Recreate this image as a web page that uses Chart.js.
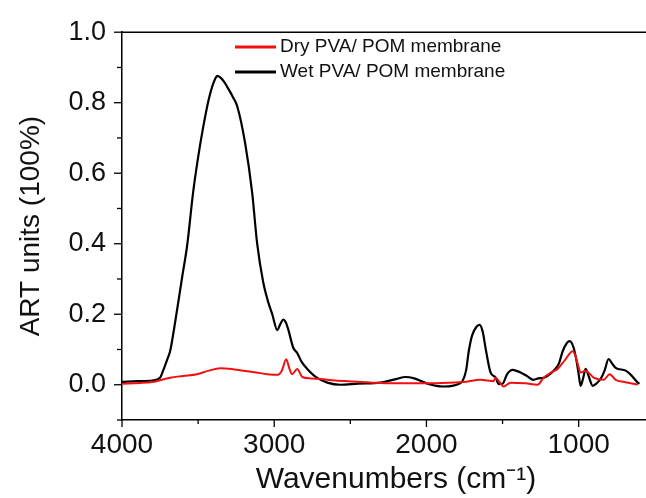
<!DOCTYPE html>
<html>
<head>
<meta charset="utf-8">
<script src="https://cdn.jsdelivr.net/npm/chart.js@4.4.0/dist/chart.umd.min.js"></script>
<style>
  html, body { margin: 0; padding: 0; background: #fff; overflow: hidden; }
  #wrap { width: 646px; height: 498px; overflow: hidden; }
</style>
</head>
<body>
<!-- the original figure is cropped on the right, so the canvas runs past the window edge -->
<div id="wrap"><canvas id="ftir" width="670" height="498"></canvas></div>
<script>
// wavenumbers (cm-1) and absorbance
var wetWavenumbers = [4000, 3900, 3800, 3750, 3730, 3700, 3684, 3650, 3605, 3572, 3533, 3500, 3467, 3430, 3408, 3390, 3375, 3355, 3330, 3309, 3270, 3243, 3191, 3145, 3112, 3072, 3040, 3013, 2980, 2960, 2941, 2925, 2908, 2875, 2849, 2820, 2783, 2720, 2651, 2566, 2450, 2303, 2200, 2138, 2080, 1993, 1888, 1776, 1740, 1722, 1700, 1670, 1651, 1630, 1612, 1579, 1545, 1526, 1500, 1470, 1434, 1400, 1382, 1340, 1296, 1265, 1230, 1164, 1130, 1105, 1075, 1059, 1033, 1015, 1000, 987, 970, 954, 935, 908, 880, 855, 830, 803, 780, 757, 691, 650, 612, 600];
var wetValues = [0.008, 0.010, 0.012, 0.02, 0.04, 0.075, 0.095, 0.18, 0.305, 0.395, 0.545, 0.645, 0.73, 0.81, 0.845, 0.866, 0.876, 0.872, 0.86, 0.845, 0.815, 0.79, 0.685, 0.545, 0.40, 0.29, 0.235, 0.20, 0.155, 0.172, 0.185, 0.178, 0.157, 0.105, 0.09, 0.065, 0.045, 0.02, 0.006, 0.0, 0.003, 0.006, 0.016, 0.022, 0.018, 0.003, -0.005, 0.005, 0.04, 0.095, 0.14, 0.165, 0.17, 0.15, 0.105, 0.035, 0.02, 0.002, 0.003, 0.03, 0.042, 0.038, 0.035, 0.025, 0.014, 0.018, 0.02, 0.04, 0.06, 0.095, 0.12, 0.124, 0.105, 0.07, 0.03, -0.003, 0.02, 0.045, 0.025, -0.003, 0.005, 0.017, 0.04, 0.073, 0.06, 0.048, 0.04, 0.025, 0.006, 0.003];

var dryWavenumbers = [4000, 3882, 3800, 3684, 3600, 3507, 3430, 3355, 3280, 3204, 3120, 3046, 2980, 2950, 2921, 2900, 2882, 2849, 2816, 2760, 2697, 2600, 2480, 2303, 2100, 1900, 1757, 1645, 1600, 1559, 1546, 1520, 1493, 1447, 1350, 1270, 1230, 1180, 1138, 1090, 1039, 1020, 1007, 987, 954, 925, 901, 836, 796, 757, 700, 612];
var dryValues = [0.003, 0.005, 0.008, 0.02, 0.025, 0.03, 0.04, 0.047, 0.045, 0.04, 0.035, 0.03, 0.028, 0.04, 0.072, 0.045, 0.03, 0.045, 0.022, 0.018, 0.016, 0.012, 0.009, 0.005, 0.004, 0.005, 0.008, 0.014, 0.012, 0.01, 0.02, 0.008, -0.005, 0.006, 0.004, 0.0, 0.02, 0.035, 0.045, 0.07, 0.095, 0.08, 0.06, 0.035, 0.04, 0.03, 0.02, 0.014, 0.03, 0.014, 0.008, 0.0];

var seriesLabels = ['Dry PVA/ POM membrane', 'Wet PVA/ POM membrane'];
var seriesColors = ['#f01010', '#000000'];

var xTicks = [4000, 3500, 3000, 2500, 2000, 1500, 1000, 500];
var xLabeled = [4000, 3000, 2000, 1000];
var yTicks = [-0.1, 0, 0.1, 0.2, 0.3, 0.4, 0.5, 0.6, 0.7, 0.8, 0.9, 1.0];
var yLabeled = ['0.0', '0.2', '0.4', '0.6', '0.8', '1.0'];

var FONT = '"Liberation Sans", Arial, sans-serif';

function pairs(xs, ys) {
    return xs.map(function (x, i) { return { x: x, y: ys[i] }; });
}

// top spine, outward major/minor ticks and the in-plot legend
var framePlugin = {
    id: 'frame',
    afterDraw: function (chart) {
        var ctx = chart.ctx, a = chart.chartArea;
        var xs = chart.scales.x, ys = chart.scales.y;
        ctx.save();
        ctx.strokeStyle = '#000';
        ctx.lineWidth = 1.5;
        ctx.beginPath();
        ctx.moveTo(a.left, a.top);
        ctx.lineTo(chart.width, a.top);
        ctx.stroke();

        ctx.lineWidth = 1.3;
        xTicks.forEach(function (v) {
            var px = xs.getPixelForValue(v);
            var len = xLabeled.indexOf(v) >= 0 ? 7 : 4;
            ctx.beginPath();
            ctx.moveTo(px, a.bottom);
            ctx.lineTo(px, a.bottom + len);
            ctx.stroke();
        });
        yTicks.forEach(function (v) {
            var py = ys.getPixelForValue(v);
            var len = yLabeled.indexOf(v.toFixed(1)) >= 0 ? 8 : 5;
            ctx.beginPath();
            ctx.moveTo(a.left, py);
            ctx.lineTo(a.left - len, py);
            ctx.stroke();
        });

        // legend
        ctx.font = '19px ' + FONT;
        ctx.textBaseline = 'middle';
        ctx.textAlign = 'left';
        chart.data.datasets.forEach(function (ds, i) {
            var y = 47 + i * 25;
            ctx.strokeStyle = ds.borderColor;
            ctx.lineWidth = 3;
            ctx.beginPath();
            ctx.moveTo(235, y);
            ctx.lineTo(276, y);
            ctx.stroke();
            ctx.fillStyle = '#111';
            ctx.fillText(ds.label, 280, y);
        });
        ctx.restore();
    }
};

var ctx = document.getElementById('ftir').getContext('2d');
var chart = new Chart(ctx, {
    type: 'line',
    data: {
        datasets: [{
            label: seriesLabels[0],
            data: pairs(dryWavenumbers, dryValues),
            borderColor: seriesColors[0],
            borderWidth: 2,
            pointRadius: 0,
            cubicInterpolationMode: 'monotone',
            fill: false
        }, {
            label: seriesLabels[1],
            data: pairs(wetWavenumbers, wetValues),
            borderColor: seriesColors[1],
            borderWidth: 2.2,
            pointRadius: 0,
            cubicInterpolationMode: 'monotone',
            fill: false
        }]
    },
    options: {
        responsive: false,
        animation: false,
        layout: { padding: { top: 28, right: 0, left: 0, bottom: 0 } },
        plugins: {
            legend: { display: false },
            tooltip: { enabled: false }
        },
        scales: {
            x: {
                type: 'linear',
                reverse: true,
                min: 400,
                max: 4000,
                afterBuildTicks: function (scale) {
                    scale.ticks = xTicks.map(function (v) { return { value: v }; });
                },
                afterFit: function (scale) { scale.height = 78; },
                grid: { display: false, drawTicks: false },
                border: { display: true, color: '#000', width: 1.5 },
                ticks: {
                    autoSkip: false,
                    maxRotation: 0,
                    padding: 8,
                    color: '#111',
                    font: { family: FONT, size: 28 },
                    callback: function (v) { return xLabeled.indexOf(v) >= 0 ? String(v) : ''; }
                },
                title: {
                    display: true,
                    text: 'Wavenumbers (cm\u207B\u00B9)',
                    color: '#111',
                    padding: { top: 0, bottom: 0 },
                    font: { family: FONT, size: 30 }
                }
            },
            y: {
                type: 'linear',
                min: -0.1,
                max: 1.0,
                afterBuildTicks: function (scale) {
                    scale.ticks = yTicks.map(function (v) { return { value: v }; });
                },
                afterFit: function (scale) { scale.width = 122; },
                grid: { display: false, drawTicks: false },
                border: { display: true, color: '#000', width: 1.5 },
                ticks: {
                    autoSkip: false,
                    padding: 16,
                    color: '#111',
                    font: { family: FONT, size: 27 },
                    callback: function (v) {
                        var s = Number(v).toFixed(1);
                        return yLabeled.indexOf(s) >= 0 ? s : '';
                    }
                },
                title: {
                    display: true,
                    text: 'ART units (100%)',
                    color: '#111',
                    padding: { top: 14, bottom: 0 },
                    font: { family: FONT, size: 28 }
                }
            }
        }
    },
    plugins: [framePlugin]
});
</script>
</body>
</html>
